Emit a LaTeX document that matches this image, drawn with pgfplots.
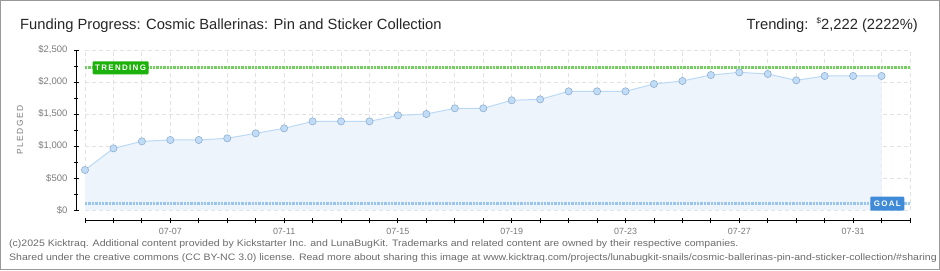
\documentclass[border=0pt]{standalone}
\usepackage{pgfplots}
\pgfplotsset{compat=1.18}
\usepackage{fontspec}
\setmainfont{Liberation Sans}
\definecolor{areafill}{HTML}{EDF4FC}
\definecolor{linec}{HTML}{BBD9F5}
\definecolor{markfill}{HTML}{C0DCF7}
\definecolor{markdraw}{HTML}{8FAFD0}
\definecolor{trendc}{HTML}{72CF60}
\definecolor{trendbox}{HTML}{1DB10B}
\definecolor{goalc}{HTML}{99C4EE}
\definecolor{goalbox}{HTML}{3F8BD8}
\definecolor{ticklab}{HTML}{7A7A7A}
\definecolor{gridc}{HTML}{E2E2E2}
\definecolor{foot}{HTML}{6A6A6A}
\begin{document}
\begin{tikzpicture}[x=1bp,y=1bp]
\useasboundingbox (0,0) rectangle (940,270);
\draw[color=gray!80, line width=1.2bp] (0.6,0.6) rectangle (939.4,269.4);
\node[anchor=base west, inner sep=0, text=black!85] at (20,241) {\fontsize{14.8}{16}\selectfont Funding Progress: Cosmic Ballerinas: Pin and Sticker Collection};
\node[anchor=base east, inner sep=0, text=black!85] at (918,241) {\fontsize{14.8}{16}\selectfont Trending:\ \ \raisebox{0.35em}{\fontsize{8}{9}\selectfont\$}2,222 (2222\%)};
\node[rotate=90, text=ticklab, inner sep=0] at (20,140) {\fontsize{8.5}{9}\selectfont P\,L\,E\,D\,G\,E\,D};
\begin{axis}[
  at={(85bp,60bp)}, anchor=south west,
  scale only axis, width=825bp, height=160bp,
  xmin=0, xmax=29, ymin=0, ymax=2500,
  axis lines*=left,
  axis line style={black, line width=0.9bp},
  x axis line style={yshift=-10bp},
  y axis line style={xshift=-9bp},
  xtick={0,...,29},
  xticklabels={,,,07-07,,,,07-11,,,,07-15,,,,07-19,,,,07-23,,,,07-27,,,,07-31,,},
  ytick={0,500,1000,1500,2000,2500},
  yticklabels={{\$0},{\$500},{\$1,000},{\$1,500},{\$2,000},{\$2,500}},
  minor ytick={250,750,1250,1750,2250},
  tick align=center, major tick length=5bp, minor tick length=4bp,
  xtick style={yshift=-10bp, black, line width=0.9bp},
  ytick style={xshift=-9bp, black, line width=0.9bp},
  minor tick style={red, line width=0.9bp},
  xticklabel style={yshift=-16bp, anchor=north, inner sep=0pt, text=ticklab, font=\fontsize{9}{10}\selectfont},
  yticklabel style={xshift=-15bp, anchor=east, inner sep=0pt, text=ticklab, font=\fontsize{9.5}{10}\selectfont},
  /pgf/number format/assume math mode=true,
  grid=major,
  major grid style={gridc, dashed, dash pattern=on 4bp off 3bp, line width=0.8bp},
  minor grid style={draw=none},
  clip=false,
]
\addplot[fill=areafill, draw=none] table {
x y
0 625
1 963
2 1073
3 1094
4 1094
5 1120
6 1198
7 1276
8 1385
9 1385
10 1385
11 1479
12 1500
13 1589
14 1589
15 1714
16 1729
17 1854
18 1854
19 1854
20 1969
21 2016
22 2109
23 2151
24 2125
25 2026
26 2094
27 2094
28 2094
} \closedcycle;
\addplot[trendc, line width=2.6bp, dash pattern=on 2.4bp off 1bp] coordinates {(0,2222) (29,2222)};
\addplot[goalc, line width=2.6bp, dash pattern=on 2.4bp off 1bp] coordinates {(0,100) (29,100)};
\addplot[linec, line width=1bp, mark=*, mark options={fill=markfill, draw=markdraw, line width=0.6bp}, mark size=3.6bp] table {
x y
0 625
1 963
2 1073
3 1094
4 1094
5 1120
6 1198
7 1276
8 1385
9 1385
10 1385
11 1479
12 1500
13 1589
14 1589
15 1714
16 1729
17 1854
18 1854
19 1854
20 1969
21 2016
22 2109
23 2151
24 2125
25 2026
26 2094
27 2094
28 2094
};
\node[fill=trendbox, text=white, rounded corners=1bp, minimum width=56bp, minimum height=13bp, inner sep=0pt, font=\fontsize{8}{8}\selectfont\bfseries] at (axis cs:1.25,2222) {T\,R\,E\,N\,D\,I\,N\,G};
\node[fill=goalbox, text=white, rounded corners=1bp, minimum width=34bp, minimum height=14bp, inner sep=0pt, font=\fontsize{8}{8}\selectfont\bfseries] at (axis cs:28.2,100) {G\,O\,A\,L};
\end{axis}
\node[anchor=base west, inner sep=0, text=foot] at (9,24) {\scalebox{1.125}[1]{\fontsize{9.4}{10}\selectfont (c)2025 Kicktraq. Additional content provided by Kickstarter Inc. and LunaBugKit. Trademarks and related content are owned by their respective companies.}};
\node[anchor=base west, inner sep=0, text=foot] at (9,10) {\scalebox{1.125}[1]{\fontsize{9.4}{10}\selectfont Shared under the creative commons (CC BY-NC 3.0) license. Read more about sharing this image at www.kicktraq.com/projects/lunabugkit-snails/cosmic-ballerinas-pin-and-sticker-collection/\#sharing}};
\end{tikzpicture}
\end{document}
